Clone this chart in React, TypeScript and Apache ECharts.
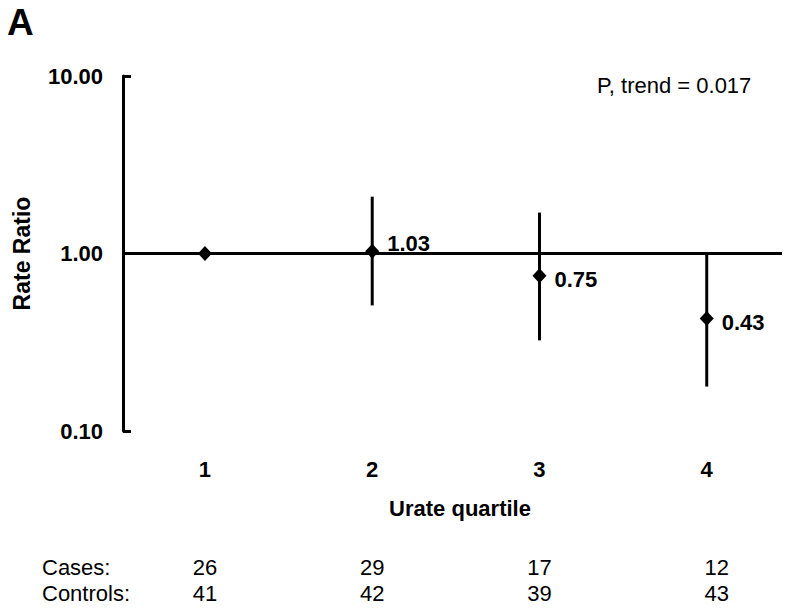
import React, { useEffect, useRef } from "react";
import * as echarts from "echarts";

const quartiles = [1, 2, 3, 4];
const rateRatios = [1.0, 1.03, 0.75, 0.43];
const ciLower = [null, 0.51, 0.324, 0.178];
const ciUpper = [null, 2.09, 1.7, 1.02];
const pointLabels = ["", "1.03", "0.75", "0.43"];
const cases = [26, 29, 17, 12];
const controls = [41, 42, 39, 43];
const yTicks = [0.1, 1, 10];

const FONT = "'Liberation Sans', Arial, Helvetica, sans-serif";
const FS = 22;

export default function App() {
  const ref = useRef<HTMLDivElement>(null);
  useEffect(() => {
    if (!ref.current) return;
    const chart = echarts.init(ref.current, undefined, { renderer: "svg" });
    const errData = quartiles
      .map((q, i) => (ciLower[i] == null ? null : [q, ciLower[i], ciUpper[i]]))
      .filter((d) => d != null);
    const option: any = {
      animation: false,
      backgroundColor: "#ffffff",
      textStyle: { fontFamily: FONT },
      grid: { left: 123, right: 18, top: 76, bottom: 182, containLabel: false },
      xAxis: {
        type: "value",
        min: 0.51,
        max: 4.45,
        axisLine: { show: false },
        axisTick: { show: false },
        splitLine: { show: false },
        axisLabel: {
          customValues: quartiles,
          margin: 27,
          fontSize: FS,
          fontWeight: "bold",
          color: "#000",
          fontFamily: FONT,
        },
      },
      yAxis: {
        type: "log",
        logBase: 10,
        min: 0.1,
        max: 10,
        name: "Rate Ratio",
        nameLocation: "middle",
        nameRotate: 90,
        nameGap: 90,
        nameTextStyle: { fontSize: 23, fontWeight: "bold", color: "#000", fontFamily: FONT },
        axisLine: { show: true, lineStyle: { color: "#000", width: 3 } },
        axisTick: { show: true, inside: true, length: 8, lineStyle: { color: "#000", width: 3 } },
        splitLine: { show: false },
        axisLabel: {
          customValues: yTicks,
          margin: 20,
          fontSize: FS,
          fontWeight: "bold",
          color: "#000",
          fontFamily: FONT,
          formatter: (v: number) => v.toFixed(2),
        },
      },
      series: [
        {
          type: "custom",
          data: errData,
          z: 3,
          renderItem: (params: any, api: any) => {
            const x = api.value(0);
            const lo = api.coord([x, api.value(1)]);
            const hi = api.coord([x, api.value(2)]);
            return {
              type: "line",
              shape: { x1: lo[0], y1: lo[1], x2: hi[0], y2: hi[1] },
              style: { stroke: "#000", lineWidth: 3 },
            };
          },
        },
        {
          type: "scatter",
          symbol: "diamond",
          symbolSize: [14, 15],
          z: 5,
          itemStyle: { color: "#000", opacity: 1 },
          data: quartiles.map((q, i) => ({
            value: [q, rateRatios[i]],
            label: {
              show: pointLabels[i] !== "",
              formatter: pointLabels[i],
              position: "right",
              distance: 8,
              offset: i === 1 ? [0, -8] : [0, 4],
              fontSize: FS,
              fontWeight: "bold",
              color: "#000",
              fontFamily: FONT,
            },
          })),
          markLine: {
            silent: true,
            symbol: "none",
            label: { show: false },
            lineStyle: { color: "#000", width: 3, type: "solid" },
            data: [{ yAxis: 1 }],
          },
        },
      ],
      graphic: [
        {
          type: "text",
          left: 7,
          top: 4,
          style: { text: "A", fontSize: 37, fontWeight: "bold", fill: "#000", fontFamily: FONT },
        },
        {
          type: "text",
          left: 597,
          top: 74,
          style: { text: "P, trend = 0.017", fontSize: FS, fill: "#000", fontFamily: FONT },
        },
      ],
    };
    chart.setOption(option);

    const extra: any[] = [
      {
        type: "text",
        x: 460,
        y: 508,
        style: {
          text: "Urate quartile",
          fontSize: FS,
          fontWeight: "bold",
          fill: "#000",
          fontFamily: FONT,
          align: "center",
          verticalAlign: "middle",
        },
      },
      {
        type: "text",
        x: 42,
        y: 567,
        style: { text: "Cases:", fontSize: FS, fill: "#000", fontFamily: FONT, verticalAlign: "middle" },
      },
      {
        type: "text",
        x: 42,
        y: 593,
        style: { text: "Controls:", fontSize: FS, fill: "#000", fontFamily: FONT, verticalAlign: "middle" },
      },
    ];
    quartiles.forEach((q, i) => {
      const px = chart.convertToPixel({ xAxisIndex: 0 } as any, q) as unknown as number;
      const shift = i === 3 ? 10 : 0;
      extra.push({
        type: "text",
        x: px + shift,
        y: 567,
        style: { text: String(cases[i]), fontSize: FS, fill: "#000", fontFamily: FONT, align: "center", verticalAlign: "middle" },
      });
      extra.push({
        type: "text",
        x: px + shift,
        y: 593,
        style: { text: String(controls[i]), fontSize: FS, fill: "#000", fontFamily: FONT, align: "center", verticalAlign: "middle" },
      });
    });
    chart.setOption({ graphic: [...option.graphic, ...extra] });

    return () => chart.dispose();
  }, []);
  return <div ref={ref} style={{ width: 800, height: 613, position: "absolute", left: 0, top: 0 }} />;
}
